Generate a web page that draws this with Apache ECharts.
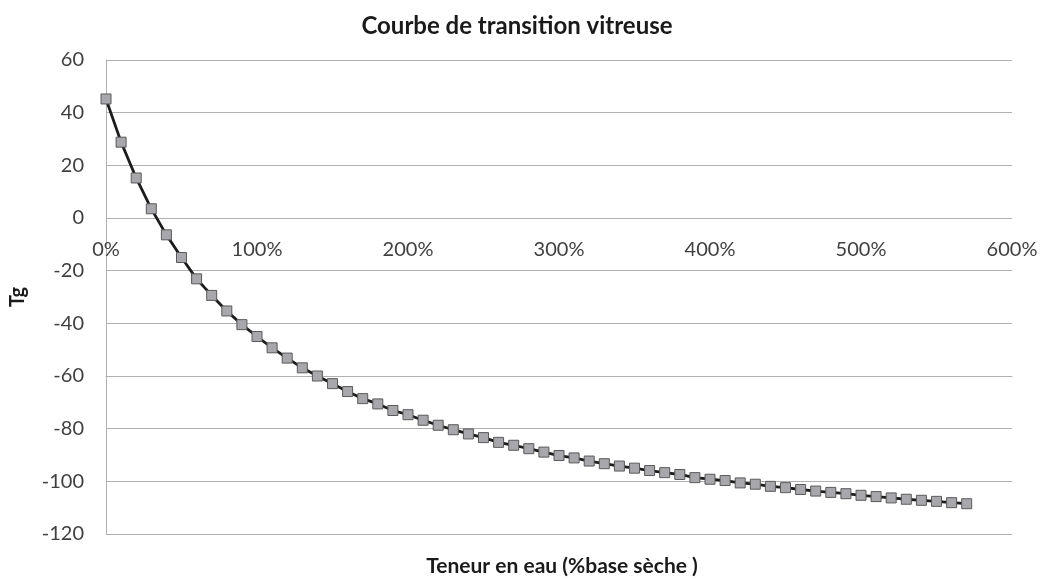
<!DOCTYPE html>
<html>
<head>
<meta charset="utf-8">
<style>
  html, body { margin: 0; padding: 0; background: #fff; }
  #main { width: 1042px; height: 581px; }
</style>
<script src="https://cdn.jsdelivr.net/npm/echarts@6/dist/echarts.min.js"></script>
</head>
<body>
<div id="main"></div>
<script>
// teneur en eau, % base sèche
var teneur = [0, 10, 20, 30, 40, 50, 60, 70, 80, 90,
    100, 110, 120, 130, 140, 150, 160, 170, 180, 190,
    200, 210, 220, 230, 240, 250, 260, 270, 280, 290,
    300, 310, 320, 330, 340, 350, 360, 370, 380, 390,
    400, 410, 420, 430, 440, 450, 460, 470, 480, 490,
    500, 510, 520, 530, 540, 550, 560, 570];
// Tg (°C)
var tg = [45.2, 28.8, 15.2, 3.5, -6.4, -15.0, -23.1, -29.4, -35.3, -40.5,
    -45.0, -49.3, -53.2, -56.9, -60.0, -62.9, -65.9, -68.6, -70.6, -73.1,
    -74.7, -76.8, -78.7, -80.4, -82.0, -83.4, -85.2, -86.3, -87.6, -88.9,
    -90.2, -91.1, -92.3, -93.3, -94.2, -95.0, -95.9, -96.7, -97.4, -98.6,
    -99.2, -99.7, -100.6, -101.1, -101.9, -102.4, -103.1, -103.7, -104.2, -104.7,
    -105.3, -105.8, -106.3, -106.8, -107.2, -107.6, -108.1, -108.5];

var yMin = -120, yMax = 60;

var chartDom = document.getElementById('main');
var myChart = echarts.init(chartDom);
var option;

var police = 'Lato, "Open Sans", sans-serif';
var gridTop = 60, gridBottom = 47;
var gridH = 581 - gridTop - gridBottom;

option = {
    animation: false,
    title: [
        {
            text: 'Courbe de transition vitreuse',
            left: 512, top: 9, textAlign: 'center',
            textStyle: { fontFamily: police, fontSize: 24, fontWeight: 'bold', color: '#1a1a1a' }
        },
        {
            text: 'Teneur en eau (%base sèche )',
            left: 557, top: 551, textAlign: 'center',
            textStyle: { fontFamily: police, fontSize: 21, fontWeight: 'bold', color: '#1a1a1a' }
        }
    ],
    grid: { left: 103, right: 30, top: gridTop, bottom: gridBottom },
    xAxis: {
        type: 'value',
        min: 0, max: 600, interval: 100,
        // l'axe des abscisses croise à Tg = 0
        offset: -(0 - yMin) / (yMax - yMin) * gridH,
        axisLine: { onZero: true, onZeroAxisIndex: 0, lineStyle: { color: '#b0b0b0', width: 1 } },
        axisTick: { show: false },
        splitLine: { show: false },
        axisLabel: {
            margin: 22,
            fontFamily: police, fontSize: 20, color: '#404040',
            formatter: function (v) { return v + '%'; }
        }
    },
    yAxis: {
        type: 'value',
        min: yMin, max: yMax, interval: 20,
        name: 'Tg',
        nameLocation: 'middle',
        nameGap: 78,
        nameRotate: 90,
        nameTextStyle: { fontFamily: police, fontSize: 20, fontWeight: 'bold', color: '#1a1a1a' },
        axisLine: { show: true, onZero: false, lineStyle: { color: '#b0b0b0', width: 1 } },
        axisTick: { show: false },
        splitLine: { lineStyle: { color: '#b0b0b0', width: 1 } },
        axisLabel: { margin: 22, fontFamily: police, fontSize: 20, color: '#404040' }
    },
    series: [
        {
            type: 'line',
            data: teneur.map(function (x, i) { return [x, tg[i]]; }),
            symbol: 'rect',
            symbolSize: 10,
            lineStyle: { color: '#1c1c1c', width: 2.8 },
            itemStyle: { color: '#a8a8ac', borderColor: '#5a5a5a', borderWidth: 1 }
        }
    ]
};

option && myChart.setOption(option);
</script>
</body>
</html>
